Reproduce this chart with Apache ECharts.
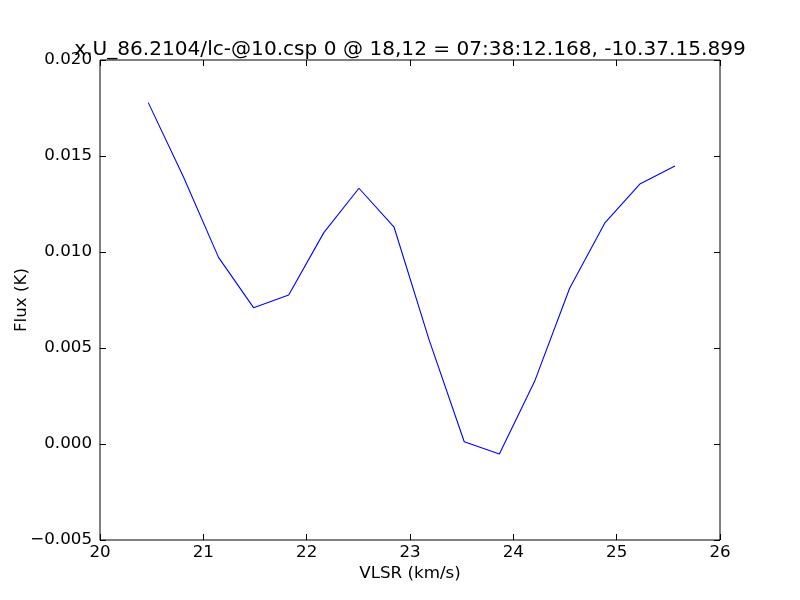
<!DOCTYPE html>
<html><head><meta charset="utf-8">
<script src="https://cdn.jsdelivr.net/npm/echarts@6/dist/echarts.min.js"></script>
<style>html,body{margin:0;padding:0;background:#fff}#c{width:800px;height:600px}</style>
</head><body><div id="c"></div>
<script>
const titleText = 'x.U_86.2104/lc-@10.csp 0 @ 18,12 = 07:38:12.168, -10.37.15.899';
const vlsr = [20.467, 20.807, 21.147, 21.486, 21.826, 22.166, 22.506, 22.846, 23.185, 23.525, 23.865, 24.205, 24.545, 24.884, 25.224, 25.564];
const flux = [0.01778, 0.01392, 0.00972, 0.00710, 0.00776, 0.01101, 0.01332, 0.01129, 0.00542, 0.00012, -0.00052, 0.00325, 0.00811, 0.01150, 0.01354, 0.01448];
const xTicks = [20, 21, 22, 23, 24, 25, 26];
const yTicks = [-0.005, 0.000, 0.005, 0.010, 0.015, 0.020];

const font = 'DejaVu Sans';
const chart = echarts.init(document.getElementById('c'), null, {renderer: 'canvas'});
const tickStyle = {show: true, inside: true, length: 6, lineStyle: {color: '#000', width: 1}};
const noLine = {show: false, onZero: false};
chart.setOption({
  animation: false,
  backgroundColor: '#fff',
  title: {text: titleText, left: 405, textAlign: 'center', top: 35,
    textStyle: {fontFamily: font, fontSize: 20.1, fontWeight: 'normal', color: '#000'}},
  grid: {left: 100, right: 80, top: 60, bottom: 60, containLabel: false, outerBoundsMode: 'none',
    show: true, borderColor: '#000', borderWidth: 1, backgroundColor: '#fff'},
  xAxis: [
    {type: 'value', min: xTicks[0], max: xTicks[xTicks.length-1], interval: 1, position: 'bottom',
     name: 'VLSR (km/s)', nameLocation: 'middle', nameGap: 25, nameMoveOverlap: false,
     nameTextStyle: {fontFamily: font, fontSize: 16.7, color: '#000'},
     axisLine: noLine, axisTick: tickStyle, splitLine: {show: false},
     axisLabel: {fontFamily: font, fontSize: 16.7, color: '#000', margin: 4}},
    {type: 'value', min: xTicks[0], max: xTicks[xTicks.length-1], interval: 1, position: 'top',
     axisLine: noLine, axisTick: tickStyle, splitLine: {show: false}, axisLabel: {show: false}}
  ],
  yAxis: [
    {type: 'value', min: yTicks[0], max: yTicks[yTicks.length-1], interval: 0.005, position: 'left',
     name: 'Flux (K)', nameLocation: 'middle', nameGap: 70, nameMoveOverlap: false,
     nameTextStyle: {fontFamily: font, fontSize: 16.7, color: '#000'},
     axisLine: noLine, axisTick: tickStyle, splitLine: {show: false},
     axisLabel: {fontFamily: font, fontSize: 16.7, color: '#000', margin: 8,
       formatter: v => v.toFixed(3).replace('-', '\u2212')}},
    {type: 'value', min: yTicks[0], max: yTicks[yTicks.length-1], interval: 0.005, position: 'right',
     axisLine: noLine, axisTick: tickStyle, splitLine: {show: false}, axisLabel: {show: false}}
  ],
  series: [{type: 'line', xAxisIndex: 0, yAxisIndex: 0, data: vlsr.map((x, i) => [x, flux[i]]),
    showSymbol: false, symbol: 'none', lineStyle: {color: '#0000ff', width: 1.1}, itemStyle: {color: '#0000ff'}}]
});
</script></body></html>
